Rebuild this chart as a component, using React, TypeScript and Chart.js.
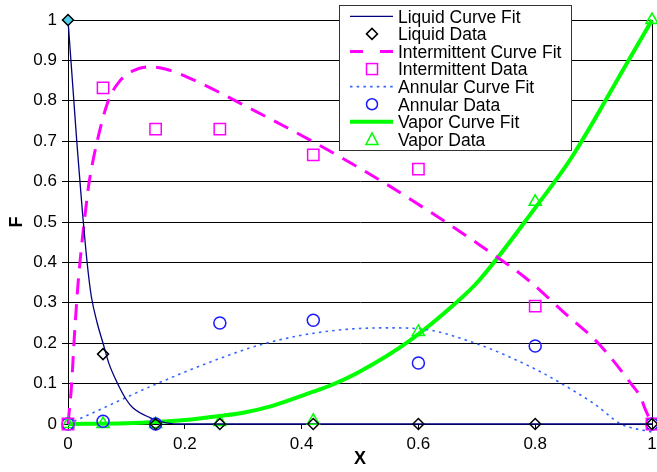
import React, { useEffect, useRef } from "react";
import { Chart, registerables } from "chart.js";

Chart.register(...registerables);

// ---- Data ----
const dataX = [0, 0.06, 0.15, 0.26, 0.42, 0.6, 0.8, 1];
const liquidData = [1, 0.173, 0, 0, 0, 0, 0, 0];
const intermittentData = [0, 0.832, 0.73, 0.73, 0.666, 0.631, 0.292, 0];
const annularData = [0, 0.007, 0, 0.25, 0.257, 0.151, 0.193, 0];
const vaporData = [0, 0, 0, 0.005, 0.008, 0.228, 0.55, 1];

const liquidFitX = [0, 0.005, 0.01, 0.015, 0.0205, 0.025, 0.03, 0.035, 0.04, 0.05, 0.06, 0.07, 0.083, 0.1, 0.111, 0.14, 0.168, 0.2, 0.4, 0.6, 0.8, 1];
const liquidFitY = [1, 0.9, 0.8, 0.7, 0.6, 0.52, 0.44, 0.37, 0.315, 0.25, 0.2, 0.15, 0.106, 0.06, 0.04, 0.016, 0.003, 0, 0, 0, 0, 0];

const intermittentFitX = [0, 0.0063, 0.0102, 0.0176, 0.032, 0.0364, 0.05, 0.069, 0.0887, 0.111, 0.14, 0.168, 0.225, 0.296, 0.418, 0.537, 0.62, 0.703, 0.79, 0.85, 0.908, 0.965, 0.981, 0.9875, 1];
const intermittentFitY = [0, 0.1, 0.2, 0.354, 0.552, 0.6, 0.7, 0.8, 0.849, 0.874, 0.884, 0.878, 0.845, 0.793, 0.7, 0.601, 0.525, 0.445, 0.354, 0.275, 0.2, 0.098, 0.065, 0.04, 0];

const annularFitX = [0, 0.055, 0.151, 0.256, 0.339, 0.447, 0.544, 0.6, 0.697, 0.8, 0.845, 0.902, 0.947, 1];
const annularFitY = [0, 0.036, 0.099, 0.16, 0.2, 0.23, 0.238, 0.236, 0.2, 0.136, 0.1, 0.049, 0, -0.02];

const vaporFitX = [0, 0.1, 0.15, 0.2, 0.26, 0.3, 0.35, 0.42, 0.447, 0.5, 0.584, 0.663, 0.703, 0.8, 0.862, 0.959, 1];
const vaporFitY = [0, 0.002, 0.005, 0.01, 0.02, 0.028, 0.045, 0.08, 0.094, 0.13, 0.205, 0.298, 0.354, 0.535, 0.659, 0.898, 1];

const legendLabels = [
  "Liquid Curve Fit",
  "Liquid Data",
  "Intermittent Curve Fit",
  "Intermittent Data",
  "Annular Curve Fit",
  "Annular Data",
  "Vapor Curve Fit",
  "Vapor Data",
];

const FONT = "'Liberation Sans', Arial, Helvetica, sans-serif";
const NAVY = "#000080";
const MAGENTA = "#FF00FF";
const BLUE = "#1a1aff";
const DOTBLUE = "#3366FF";
const GREEN = "#00FF00";

const pts = (xs: number[], ys: number[]) => xs.map((x, i) => ({ x, y: ys[i] }));

const legendPlugin = {
  id: "customLegend",
  afterDraw(chart: any) {
    const ctx = chart.ctx as CanvasRenderingContext2D;
    ctx.save();
    const bx = 339.5, by = 5.5, bw = 232, bh = 145;
    ctx.fillStyle = "#fff";
    ctx.fillRect(bx, by, bw, bh);
    ctx.strokeStyle = "#333";
    ctx.lineWidth = 1;
    ctx.strokeRect(bx, by, bw, bh);
    const rowY = (i: number) => 16.3 + i * 17.59;
    const lx0 = 350, lx1 = 393, mx = 372;
    const line = (i: number, color: string, w: number, dash: number[]) => {
      ctx.beginPath();
      ctx.setLineDash(dash);
      ctx.strokeStyle = color;
      ctx.lineWidth = w;
      ctx.moveTo(lx0, rowY(i));
      ctx.lineTo(lx1, rowY(i));
      ctx.stroke();
      ctx.setLineDash([]);
    };
    line(0, NAVY, 1.3, []);
    line(2, MAGENTA, 3, [13, 17]);
    line(4, DOTBLUE, 1.6, [2.5, 4.2]);
    line(6, GREEN, 4, []);
    ctx.lineWidth = 1.5;
    let y = rowY(1);
    ctx.strokeStyle = "#000";
    ctx.beginPath();
    ctx.moveTo(mx - 5.5, y); ctx.lineTo(mx, y - 5.5); ctx.lineTo(mx + 5.5, y); ctx.lineTo(mx, y + 5.5); ctx.closePath();
    ctx.stroke();
    y = rowY(3);
    ctx.strokeStyle = MAGENTA;
    ctx.strokeRect(mx - 5.5, y - 5.5, 11, 11);
    y = rowY(5);
    ctx.strokeStyle = BLUE;
    ctx.beginPath();
    ctx.arc(mx, y, 5.5, 0, Math.PI * 2);
    ctx.stroke();
    y = rowY(7);
    ctx.strokeStyle = GREEN;
    ctx.beginPath();
    ctx.moveTo(mx, y - 6.5); ctx.lineTo(mx + 6, y + 5); ctx.lineTo(mx - 6, y + 5); ctx.closePath();
    ctx.stroke();
    ctx.fillStyle = "#000";
    ctx.font = `17.5px ${FONT}`;
    ctx.textBaseline = "alphabetic";
    ctx.textAlign = "left";
    legendLabels.forEach((t, i) => ctx.fillText(t, 398, rowY(i) + 6.3));
    ctx.restore();
  },
};

const borderPlugin = {
  id: "rightBorder",
  beforeDatasetsDraw(chart: any) {
    const { ctx, chartArea } = chart;
    ctx.save();
    ctx.strokeStyle = "#000";
    ctx.lineWidth = 1;
    const x = Math.round(chartArea.right) + 0.5;
    ctx.beginPath();
    ctx.moveTo(x, chartArea.top);
    ctx.lineTo(x, chartArea.bottom);
    ctx.stroke();
    ctx.restore();
  },
};

export default function App() {
  const ref = useRef<HTMLCanvasElement | null>(null);
  useEffect(() => {
    if (!ref.current) return;
    Chart.defaults.font.family = FONT;
    const fitCommon = { showLine: true, pointRadius: 0, pointHoverRadius: 0, cubicInterpolationMode: "monotone" as const, clip: false as const };
    const dataCommon = { showLine: false, borderWidth: 1.5, pointBorderWidth: 1.5, backgroundColor: "rgba(0,0,0,0)", clip: false as const };
    const chart = new Chart(ref.current, {
      type: "scatter",
      data: {
        datasets: [
          { ...dataCommon, label: "Liquid Data", data: pts(dataX, liquidData), pointStyle: "rectRot", pointRadius: 5.5, borderColor: "#000", pointBackgroundColor: (c: any) => (c.dataIndex === 0 ? "#4fd0e8" : "rgba(0,0,0,0)") },
          { ...dataCommon, label: "Intermittent Data", data: pts(dataX, intermittentData), pointStyle: "rect", pointRadius: 8, borderColor: MAGENTA },
          { ...dataCommon, label: "Annular Data", data: pts(dataX, annularData), pointStyle: "circle", pointRadius: 6, borderColor: BLUE },
          { ...dataCommon, label: "Vapor Data", data: pts(dataX, vaporData), pointStyle: "triangle", pointRadius: 7, borderColor: GREEN },
          { ...fitCommon, label: "Liquid Curve Fit", data: pts(liquidFitX, liquidFitY), borderColor: NAVY, borderWidth: 1.3 },
          { ...fitCommon, label: "Intermittent Curve Fit", data: pts(intermittentFitX, intermittentFitY), borderColor: MAGENTA, borderWidth: 3, borderDash: [16, 10] },
          { ...fitCommon, label: "Annular Curve Fit", data: pts(annularFitX, annularFitY), borderColor: DOTBLUE, borderWidth: 1.6, borderDash: [2.5, 4.2] },
          { ...fitCommon, label: "Vapor Curve Fit", data: pts(vaporFitX, vaporFitY), borderColor: GREEN, borderWidth: 4 },
        ],
      },
      options: {
        responsive: false,
        animation: false,
        devicePixelRatio: 1,
        layout: { padding: { top: 20, right: 5, left: 0, bottom: 0 }, autoPadding: false },
        plugins: { legend: { display: false }, tooltip: { enabled: false } },
        scales: {
          x: {
            type: "linear",
            min: 0,
            max: 1,
            afterFit: (s: any) => { s.height = 48; s.paddingLeft = 0; s.paddingRight = 0; },
            ticks: { stepSize: 0.2, color: "#000", font: { size: 17 }, padding: 5, maxRotation: 0, callback: (v: any) => String(+(+v).toFixed(1)) },
            grid: { drawOnChartArea: false, drawTicks: true, tickLength: 5, color: "#000", lineWidth: 1 },
            border: { display: true, color: "#000", width: 1 },
            title: { display: true, text: "X", color: "#000", font: { size: 18, weight: "bold" }, padding: { top: 0, bottom: 2 } },
          },
          y: {
            type: "linear",
            min: 0,
            max: 1,
            afterFit: (s: any) => { s.width = 68; s.paddingTop = 0; s.paddingBottom = 0; },
            ticks: { stepSize: 0.1, color: "#000", font: { size: 17 }, padding: 5, callback: (v: any) => String(+(+v).toFixed(1)) },
            grid: { drawTicks: true, tickLength: 6, color: "#000", lineWidth: 1 },
            border: { display: true, color: "#000", width: 1 },
            title: { display: true, text: "F", color: "#000", font: { size: 18, weight: "bold" }, padding: { top: 6, bottom: 0 } },
          },
        },
      },
      plugins: [borderPlugin, legendPlugin],
    } as any);
    return () => chart.destroy();
  }, []);
  return (
    <div style={{ position: "fixed", left: 0, top: 0, width: 657, height: 472, background: "#fff" }}>
      <canvas ref={ref} width={657} height={472} style={{ width: 657, height: 472, display: "block" }} />
    </div>
  );
}
